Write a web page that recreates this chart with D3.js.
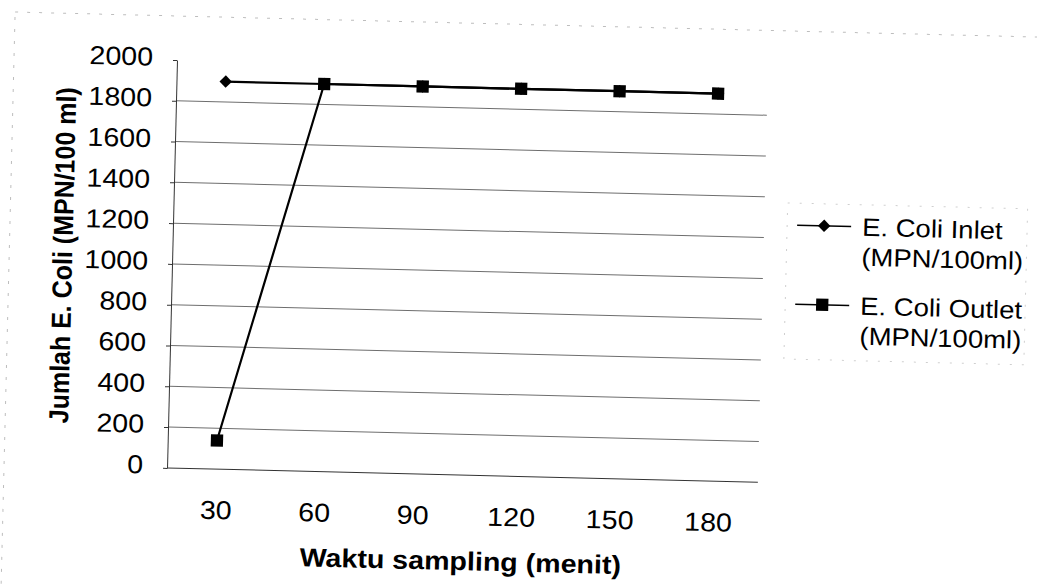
<!DOCTYPE html>
<html>
<head>
<meta charset="utf-8">
<script src="https://cdn.jsdelivr.net/npm/d3@7"></script>
<style>
  body { margin: 0; background: #fff; }
  svg { display: block; font-family: "Liberation Sans", Arial, sans-serif; }
</style>
</head>
<body>
<svg width="1037" height="586"></svg>
<script>
// data
const waktu = ["30", "60", "90", "120", "150", "180"];
const inlet = [1900, 1900, 1900, 1900, 1900, 1900];
const outlet = [140, 1900, 1900, 1900, 1900, 1900];
const yTicks = [0, 200, 400, 600, 800, 1000, 1200, 1400, 1600, 1800, 2000];
const seriesNames = ["E. Coli Inlet", "E. Coli Outlet"];
const seriesUnit = "(MPN/100ml)";

const svg = d3.select("svg");
const stretch = 1.1;   // the scan is a bit wider than tall

// plot box (before the scan tilt)
const plotL = 177, plotR = 768, plotT = 60, plotB = 468;

// whole page is tilted a little clockwise, like the scan
const root = svg.append("g")
  .attr("transform", "rotate(1.4," + plotL + "," + plotT + ")");

// faint chart-area border
root.append("rect")
  .attr("x", 14).attr("y", 16)
  .attr("width", 1080).attr("height", 640)
  .attr("fill", "none")
  .attr("stroke", "#bdbdbd")
  .attr("stroke-dasharray", "3,9");

const x = d3.scalePoint().domain(waktu).range([plotL, plotR]).padding(0.5);
const y = d3.scaleLinear().domain([0, 2000]).range([plotB, plotT]);

// gridlines 200..1800
root.append("g")
  .selectAll("line")
  .data(yTicks.filter(d => d > 0 && d < 2000))
  .join("line")
    .attr("x1", plotL).attr("x2", plotR)
    .attr("y1", d => y(d)).attr("y2", d => y(d))
    .attr("stroke", "#6e6e6e")
    .attr("stroke-width", 1);

// y axis
const yAxis = root.append("g")
  .attr("transform", "translate(" + plotL + ",0)")
  .call(d3.axisLeft(y).tickValues(yTicks).tickFormat(d3.format("d"))
    .tickSize(4).tickSizeOuter(0));
yAxis.select(".domain").attr("stroke", "#333");
yAxis.selectAll(".tick line").attr("stroke", "#333");
yAxis.selectAll(".tick text")
  .attr("x", -24 / stretch)
  .attr("dy", "0.22em")
  .attr("transform", "scale(" + stretch + ",1)")
  .attr("font-size", 26)
  .attr("fill", "#000");

// x axis
const xAxis = root.append("g")
  .attr("transform", "translate(0," + plotB + ")")
  .call(d3.axisBottom(x).tickSize(0).tickSizeOuter(0));
xAxis.select(".domain")
  .attr("d", "M" + plotL + ",0H" + plotR)
  .attr("stroke", "#333");
xAxis.selectAll(".tick text")
  .attr("y", 50)
  .attr("dy", 0)
  .attr("transform", "scale(" + stretch + ",1)")
  .attr("font-size", 26)
  .attr("fill", "#000");

// d3 axes set a font on the group; use the page font instead
root.selectAll("g").attr("font-family", null);

// axis titles
root.append("text")
  .attr("transform", "translate(" + ((plotL + plotR) / 2) + ",563) scale(" + stretch + ",1)")
  .attr("text-anchor", "middle")
  .attr("font-size", 26)
  .attr("font-weight", "bold")
  .text("Waktu sampling (menit)");

root.append("text")
  .attr("transform", "translate(77,258) scale(" + stretch + ",1) rotate(-90)")
  .attr("text-anchor", "middle")
  .attr("font-size", 25)
  .attr("font-weight", "bold")
  .text("Jumlah E. Coli (MPN/100 ml)");

// series
const line = d3.line()
  .x((d, i) => x(waktu[i]))
  .y(d => y(d));

const diamond = d3.symbol().type(d3.symbolSquare).size(78);
const square = d3.symbol().type(d3.symbolSquare).size(150);

root.append("path")
  .datum(inlet)
  .attr("d", line)
  .attr("fill", "none")
  .attr("stroke", "#000")
  .attr("stroke-width", 2.2);

root.append("g")
  .selectAll("path")
  .data(inlet)
  .join("path")
    .attr("d", diamond)
    .attr("transform", (d, i) => "translate(" + x(waktu[i]) + "," + y(d) + ") rotate(45)")
    .attr("fill", "#000");

root.append("path")
  .datum(outlet)
  .attr("d", line)
  .attr("fill", "none")
  .attr("stroke", "#000")
  .attr("stroke-width", 2.2);

root.append("g")
  .selectAll("path")
  .data(outlet)
  .join("path")
    .attr("d", square)
    .attr("transform", (d, i) => "translate(" + x(waktu[i]) + "," + y(d) + ")")
    .attr("fill", "#000");

// legend
const legend = root.append("g").attr("transform", "translate(791,188)");

legend.append("rect")
  .attr("width", 240).attr("height", 156)
  .attr("fill", "none")
  .attr("stroke", "#cfcfcf")
  .attr("stroke-dasharray", "2,10");

const items = legend.selectAll("g.item")
  .data(seriesNames)
  .join("g")
    .attr("class", "item")
    .attr("transform", (d, i) => "translate(0," + (i * 79) + ")");

items.append("line")
  .attr("x1", 10).attr("x2", 64)
  .attr("y1", 22).attr("y2", 22)
  .attr("stroke", "#000")
  .attr("stroke-width", 1.5);

items.append("path")
  .attr("d", (d, i) => i === 0 ? diamond() : square())
  .attr("transform", (d, i) => "translate(37,22)" + (i === 0 ? " rotate(45)" : ""))
  .attr("fill", "#000");

const labels = items.append("text")
  .attr("transform", "translate(75,31) scale(" + stretch + ",1)")
  .attr("font-size", 25)
  .attr("fill", "#000");
labels.append("tspan").attr("x", 0).attr("y", 0).text(d => d);
labels.append("tspan").attr("x", 0).attr("y", 30).text(seriesUnit);
</script>
</body>
</html>
